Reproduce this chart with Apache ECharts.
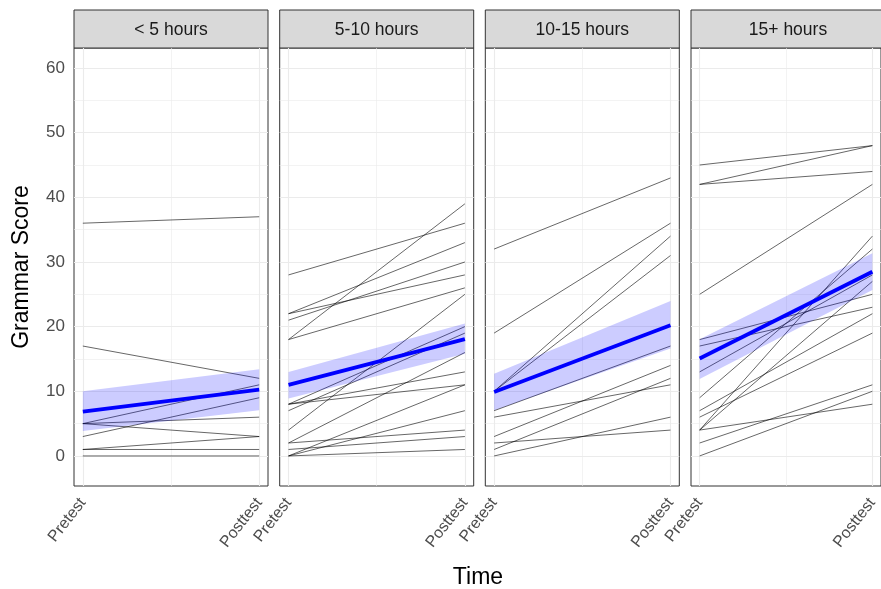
<!DOCTYPE html>
<html><head><meta charset="utf-8">
<script src="https://cdn.jsdelivr.net/npm/echarts@6/dist/echarts.min.js"></script>
<style>html,body{margin:0;padding:0;background:#fff}#c{width:881px;height:589px}</style>
</head><body><div id="c"></div>
<script>
// ---- data ----
const panelNames = ['< 5 hours', '5-10 hours', '10-15 hours', '15+ hours'];
const timeLabels = ['Pretest', 'Posttest'];
const yTickValues = [0, 10, 20, 30, 40, 50, 60];
const yMinorValues = [5, 15, 25, 35, 45, 55];

const pretest1  = [36, 17, 5, 5, 5, 3, 1, 1, 0];
const posttest1 = [37, 12, 11, 6, 3, 9, 3, 1, 0];
const pretest2  = [28, 22, 22, 21, 18, 18, 4, 8, 7, 8, 8, 2, 0, 0, 2, 1, 0];
const posttest2 = [36, 33, 28, 30, 39, 26, 25, 20, 19, 13, 11, 16, 11, 7, 4, 3, 1];
const pretest3  = [32, 19, 10, 10, 7, 6, 3, 1, 2, 0];
const posttest3 = [43, 36, 34, 31, 17, 11, 14, 12, 4, 6];
const pretest4  = [45, 42, 42, 25, 18, 17, 13, 9, 7, 6, 4, 4, 4, 2, 0];
const posttest4 = [48, 48, 44, 42, 25, 23, 28, 32, 22, 19, 34, 8, 27, 11, 10];

const fitPretest  = [6.85, 11.0, 9.9, 15.07];
const fitPosttest = [10.25, 18.06, 20.2, 28.5];
const bandLowPretest   = [3.85, 8.87, 7.05, 11.9];
const bandLowPosttest  = [7.05, 15.8, 16.6, 25.65];
const bandHighPretest  = [10.0, 13.0, 12.7, 18.06];
const bandHighPosttest = [13.4, 20.5, 23.95, 31.35];

// ---- layout / styles ----
const FONT = "'Liberation Sans', Arial, sans-serif";
const pretests = [pretest1, pretest2, pretest3, pretest4];
const posttests = [posttest1, posttest2, posttest3, posttest4];
const gridLefts = [74, 279.7, 485.3, 691];
const gridW = 194, gridTop = 48, gridH = 438;

const grids = [], xAxes = [], yAxes = [], series = [], graphics = [];

for (let i = 0; i < 4; i++) {
  grids.push({left: gridLefts[i], top: gridTop, width: gridW, height: gridH,
    show: true, borderColor: '#333333', borderWidth: 1, backgroundColor: '#ffffff'});
  xAxes.push({type: 'value', gridIndex: i, min: -0.05, max: 1.05,
    axisLine: {show: false}, splitLine: {show: false},
    axisTick: {show: true, customValues: [0, 1], length: 4, lineStyle: {color: '#333333', width: 1}},
    axisLabel: {show: true, customValues: [0, 1], formatter: v => timeLabels[Math.round(v)],
      rotate: 52, fontSize: 16, color: '#4D4D4D', margin: 14, fontFamily: FONT}});
  yAxes.push({type: 'value', gridIndex: i, min: -4.65, max: 63.1,
    axisLine: {show: false}, splitLine: {show: false},
    axisTick: {show: i === 0, customValues: yTickValues, length: 4, lineStyle: {color: '#333333', width: 1}},
    axisLabel: {show: i === 0, customValues: yTickValues, fontSize: 17, color: '#4D4D4D', margin: 9, fontFamily: FONT},
    name: i === 0 ? 'Grammar Score' : '', nameLocation: 'middle', nameGap: 41,
    nameTextStyle: {fontSize: 23, color: '#000000', fontFamily: FONT}});

  const gridMarks = [];
  yMinorValues.forEach(v => gridMarks.push({yAxis: v, lineStyle: {width: 0.6}}));
  yTickValues.forEach(v => gridMarks.push({yAxis: v}));
  gridMarks.push({xAxis: 0.5, lineStyle: {width: 0.6}});
  gridMarks.push({xAxis: 0});
  gridMarks.push({xAxis: 1});

  // individual lines
  pretests[i].forEach((p, k) => {
    series.push({type: 'line', xAxisIndex: i, yAxisIndex: i, silent: true, animation: false,
      symbol: 'none', z: 3,
      data: [[0, p], [1, posttests[i][k]]],
      lineStyle: {color: '#000000', width: 0.6},
      markLine: k === 0 ? {silent: true, symbol: ['none', 'none'], label: {show: false}, z: 1,
        animation: false, lineStyle: {color: '#EBEBEB', width: 1.1, type: 'solid'}, data: gridMarks} : undefined});
  });

  // confidence band (polygon through the axes)
  const bandData = [[0, bandLowPretest[i], bandHighPretest[i]], [1, bandLowPosttest[i], bandHighPosttest[i]]];
  series.push({type: 'custom', xAxisIndex: i, yAxisIndex: i, silent: true, animation: false, z: 4,
    data: bandData, encode: {x: 0, y: 1},
    renderItem: (params, api) => {
      if (params.dataIndex !== 0) return null;
      const a = bandData[0], b = bandData[1];
      return {type: 'polygon',
        shape: {points: [api.coord([a[0], a[1]]), api.coord([b[0], b[1]]), api.coord([b[0], b[2]]), api.coord([a[0], a[2]])]},
        style: {fill: 'rgba(0,0,255,0.2)', stroke: null}};
    }});
  // fitted line
  series.push({type: 'line', xAxisIndex: i, yAxisIndex: i, silent: true, animation: false,
    symbol: 'none', z: 5,
    data: [[0, fitPretest[i]], [1, fitPosttest[i]]],
    lineStyle: {color: '#0000FF', width: 3.8}});

  // strip
  graphics.push({type: 'rect', shape: {x: gridLefts[i], y: 10, width: gridW, height: gridTop - 10},
    style: {fill: '#D9D9D9', stroke: '#333333', lineWidth: 1}, silent: true});
  graphics.push({type: 'text', x: gridLefts[i] + gridW / 2, y: 30,
    style: {text: panelNames[i], align: 'center', verticalAlign: 'middle', fontSize: 17.5,
      fill: '#1A1A1A', fontFamily: FONT}, silent: true});
}
graphics.push({type: 'text', x: 478, y: 578,
  style: {text: 'Time', align: 'center', verticalAlign: 'middle', fontSize: 23,
    fill: '#000000', fontFamily: FONT}, silent: true});

const chart = echarts.init(document.getElementById('c'), null, {renderer: 'canvas'});
chart.setOption({
  animation: false,
  backgroundColor: '#ffffff',
  textStyle: {fontFamily: FONT},
  grid: grids, xAxis: xAxes, yAxis: yAxes, series: series, graphic: graphics
});
</script>
</body></html>
